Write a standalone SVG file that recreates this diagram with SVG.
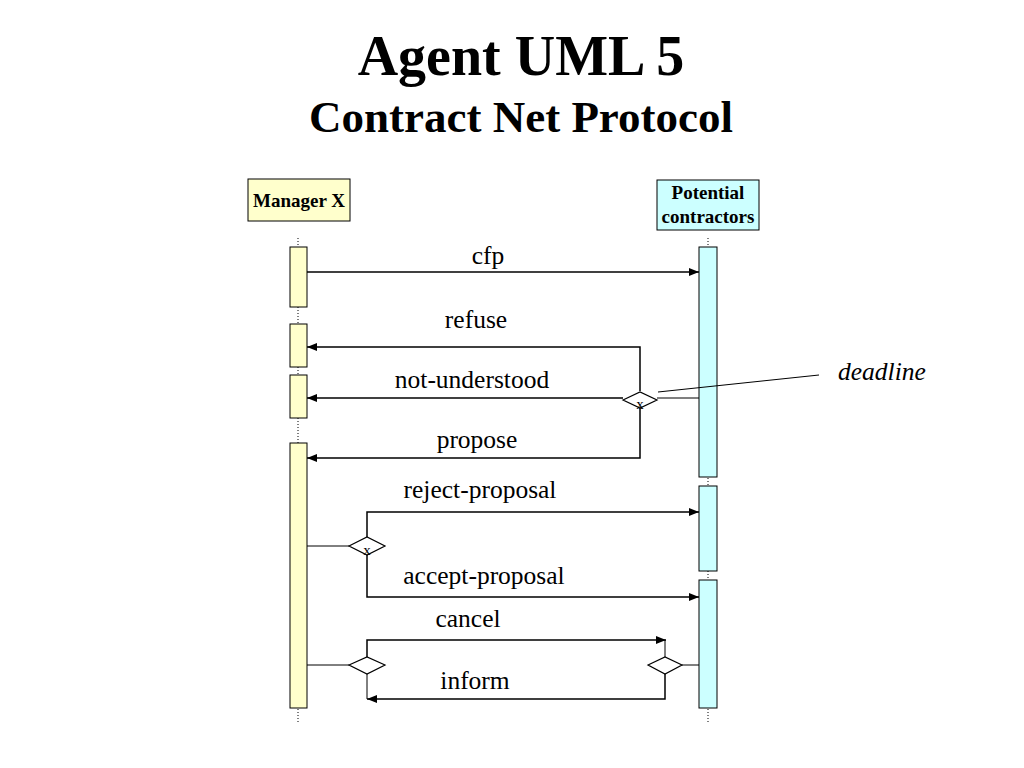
<svg xmlns="http://www.w3.org/2000/svg" width="1024" height="768" viewBox="0 0 1024 768">
<style>
.title{font-weight:bold;text-anchor:middle}
.lbl{font-size:25.5px;text-anchor:middle}
.hdr{font-size:19px;font-weight:bold;text-anchor:middle}
.ln{stroke:#000;stroke-width:1.5;fill:none}
.thin{stroke:#000;stroke-width:1;fill:none}
.life{stroke:#000;stroke-width:1;stroke-dasharray:1,2;fill:none}
.ya{fill:#FFFFCC;stroke:#000;stroke-width:1}
.ca{fill:#CCFFFF;stroke:#000;stroke-width:1}
.dm{fill:#fff;stroke:#000;stroke-width:1.2}
</style>
<defs>
<marker id="ah" viewBox="0 0 10 8" refX="10" refY="4" markerWidth="10" markerHeight="8" markerUnits="userSpaceOnUse" orient="auto">
<path d="M0,0 L10,4 L0,8 z" fill="#000"/>
</marker>
</defs>
<rect width="1024" height="768" fill="#fff"/>
<g font-family="Liberation Serif, Times New Roman, serif" fill="#000">
<text class="title" x="521" y="75" font-size="56">Agent UML 5</text>
<text class="title" x="521" y="132" font-size="45">Contract Net Protocol</text>
</g>

<g id="manager" font-family="Liberation Serif, Times New Roman, serif">
<rect class="ya" x="248" y="179" width="102" height="42"/>
<text class="hdr" x="299" y="207">Manager X</text>
<line class="life" x1="298" y1="238" x2="298" y2="722"/>
<rect class="ya" x="290" y="247" width="17" height="60"/>
<rect class="ya" x="290" y="324" width="17" height="43"/>
<rect class="ya" x="290" y="375" width="17" height="43"/>
<rect class="ya" x="290" y="443" width="17" height="265"/>
</g>

<g id="contractors" font-family="Liberation Serif, Times New Roman, serif">
<rect class="ca" x="657" y="180" width="102" height="50"/>
<text class="hdr" x="708" y="199">Potential</text>
<text class="hdr" x="708" y="223">contractors</text>
<line class="life" x1="708" y1="238" x2="708" y2="722"/>
<rect class="ca" x="699" y="247" width="18" height="230"/>
<rect class="ca" x="699" y="486" width="18" height="85"/>
<rect class="ca" x="699" y="580" width="18" height="128"/>
</g>

<g id="connectors">
<line class="ln" x1="307" y1="272" x2="699" y2="272" marker-end="url(#ah)"/>
<polyline class="ln" points="640,391 640,347 307,347" marker-end="url(#ah)"/>
<line class="ln" x1="623" y1="398" x2="307" y2="398" marker-end="url(#ah)"/>
<polyline class="ln" points="640,407 640,458 307,458" marker-end="url(#ah)"/>
<line class="thin" x1="657" y1="398" x2="699" y2="398"/>
<line class="thin" x1="658" y1="392" x2="819" y2="375"/>

<line class="thin" x1="307" y1="546" x2="349" y2="546"/>
<polyline class="ln" points="367,537 367,512 699,512" marker-end="url(#ah)"/>
<polyline class="ln" points="367,555 367,597 699,597" marker-end="url(#ah)"/>

<line class="thin" x1="307" y1="665" x2="349" y2="665"/>
<polyline class="ln" points="367,657 367,640 666,640" marker-end="url(#ah)"/>
<line class="thin" x1="665" y1="640" x2="665" y2="657"/>
<line class="thin" x1="682" y1="665" x2="699" y2="665"/>
<polyline class="ln" points="665,673 665,699 367,699" marker-end="url(#ah)"/>
<line class="thin" x1="367" y1="673" x2="367" y2="699"/>
</g>

<g id="decisions" font-family="Liberation Serif, Times New Roman, serif">
<polygon class="dm" points="623,400 640,392 657,400 640,408"/>
<text x="640" y="409" font-size="15" text-anchor="middle">x</text>
<polygon class="dm" points="349,546 367,537 385,546 367,555"/>
<text x="367" y="555" font-size="15" text-anchor="middle">x</text>
<polygon class="dm" points="349,665 367,657 385,665 367,674"/>
<polygon class="dm" points="648,665 665,657 682,665 665,674"/>
</g>

<g id="labels" font-family="Liberation Serif, Times New Roman, serif">
<text class="lbl" x="488" y="264">cfp</text>
<text class="lbl" x="476" y="328">refuse</text>
<text class="lbl" x="472" y="388">not-understood</text>
<text class="lbl" x="477" y="448">propose</text>
<text class="lbl" x="480" y="498">reject-proposal</text>
<text class="lbl" x="484" y="584">accept-proposal</text>
<text class="lbl" x="468" y="627">cancel</text>
<text class="lbl" x="475" y="689">inform</text>
<text x="838" y="380" font-size="25.5" font-style="italic">deadline</text>
</g>
</svg>
